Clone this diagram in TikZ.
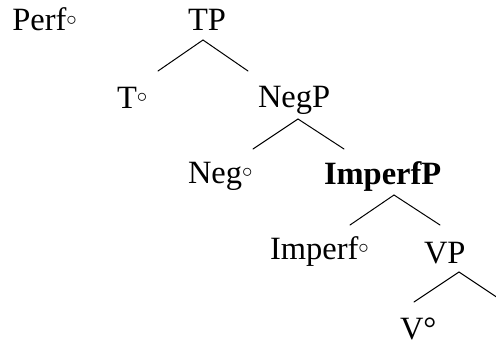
\documentclass[tikz,border=0pt]{standalone}
\usepackage{fontspec}
\setmainfont{Liberation Serif}
\newcommand{\hd}{\raisebox{0.17em}{$\scriptstyle\circ$}}
\begin{document}
\begin{tikzpicture}[x=1pt,y=-1pt,
  lbl/.style={anchor=base west,inner sep=0pt,outer sep=0pt,font=\fontsize{32.5}{38}\selectfont},
  branch/.style={line width=1pt,line cap=round,line join=miter}]
\clip (0,0) rectangle (496,343);
% labels
\node[lbl] (perf) at (12.3,30.7) {Perf\hd};
\node[lbl] (tp) at (188,30.5) {TP};
\node[lbl] (t) at (117,108) {T\hd};
\node[lbl] (negp) at (258,107) {NegP};
\node[lbl] (neg) at (188,183) {Neg\hd};
\node[lbl,font=\fontsize{32.5}{38}\selectfont\bfseries] (imperfp) at (324,184) {ImperfP};
\node[lbl] (imperf) at (270,259.5) {Imperf\hd};
\node[lbl] (vp) at (424,263) {VP};
\node[lbl] (v) at (400,339.3) {V°};
% branch points
\coordinate (tpA) at (203,40);   \coordinate (tpL) at (158,71);   \coordinate (tpR) at (248,71);
\coordinate (negA) at (298,119); \coordinate (negL) at (253,149); \coordinate (negR) at (344,149);
\coordinate (impA) at (394,195); \coordinate (impL) at (350,225); \coordinate (impR) at (440,225);
\coordinate (vpA) at (459,272);  \coordinate (vpL) at (414,302);  \coordinate (vpR) at (504,302);
\draw[branch] (tpL) -- (tpA) -- (tpR);
\draw[branch] (negL) -- (negA) -- (negR);
\draw[branch] (impL) -- (impA) -- (impR);
\draw[branch] (vpL) -- (vpA) -- (vpR);
\end{tikzpicture}
\end{document}
